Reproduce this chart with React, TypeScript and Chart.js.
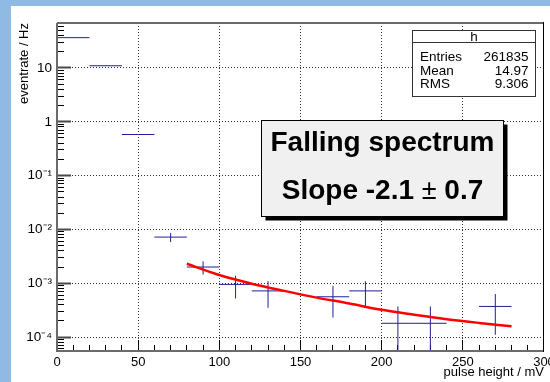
import { useEffect, useRef } from 'react';
import { Chart, registerables } from 'chart.js';

Chart.register(...registerables);

// ---- data ----
const binLow = [0, 20, 40, 60, 80, 100, 120, 160, 180, 200, 220, 260];
const binHigh = [20, 40, 60, 80, 100, 120, 140, 180, 200, 220, 240, 280];
const rate = [36.6, 11.0, 0.58, 0.0072, 0.002, 0.00095, 0.00072, 0.00056, 0.00072, 0.00018, 0.00018, 0.00037];
const rateErr = [0.05, 0.03, 0.004, 0.0014, 0.00055, 0.00043, 0.00037, 0.00033, 0.00037, 0.00019, 0.00019, 0.00026];

const fitX = [80, 100, 120, 140, 160, 180, 200, 220, 240, 260, 280];
const fitY = [0.0023, 0.00142, 0.00098, 0.00072, 0.00054, 0.00042, 0.00032, 0.00026, 0.000215, 0.000183, 0.000158];

const xTicks = [0, 50, 100, 150, 200, 250, 300];
const yTicks = [1e-4, 1e-3, 1e-2, 1e-1, 1, 10];
const yTickLabels = ['10\u207B\u2074', '10\u207B\u00B3', '10\u207B\u00B2', '10\u207B\u00B9', '1', '10'];

const statsTitle = 'h';
const statsNames = ['Entries', 'Mean', 'RMS'];
const statsValues = ['261835', '14.97', '9.306'];

const noteLine1 = 'Falling spectrum';
const noteLine2 = ['Slope -2.1 ', '\u00B1', ' 0.7'];

const X_MIN = 0;
const X_MAX = 300;
const Y_MIN = 5.5e-5;
const Y_MAX = 68.5;

const FONT = '"Liberation Sans", Arial, Helvetica, sans-serif';
const BLUE = '#1f1f99';

// minor tick positions (axis construction)
function xMinorTicks() {
  const out: number[] = [];
  for (let v = X_MIN + 10; v < X_MAX; v += 10) if (v % 50 !== 0) out.push(v);
  return out;
}
function yMinorTicks() {
  const out: number[] = [];
  for (let d = -5; d <= 1; d++) {
    for (let m = 2; m <= 9; m++) {
      const v = m * Math.pow(10, d);
      if (v > Y_MIN && v < Y_MAX) out.push(v);
    }
  }
  return out;
}

function buildCrosses() {
  const pts: { x: number; y: number | null }[] = [];
  for (let i = 0; i < binLow.length; i++) {
    const c = (binLow[i] + binHigh[i]) / 2;
    const v = rate[i];
    const lo = v - rateErr[i] > 0 ? v - rateErr[i] : Y_MIN / 10;
    pts.push({ x: binLow[i], y: v });
    pts.push({ x: binHigh[i], y: v });
    pts.push({ x: binHigh[i], y: null });
    pts.push({ x: c, y: lo });
    pts.push({ x: c, y: v + rateErr[i] });
    pts.push({ x: c, y: null });
  }
  return pts;
}

function drawFrameAndBoxes(chart: any) {
  const ctx = chart.ctx;
  const a = chart.chartArea;
  ctx.save();
  ctx.setLineDash([]);

  ctx.strokeStyle = '#6a6a6a';
  ctx.lineWidth = 2;
  ctx.beginPath();
  ctx.moveTo(a.left, a.top);
  ctx.lineTo(a.left, a.bottom);
  ctx.lineTo(a.right, a.bottom);
  ctx.moveTo(a.left, a.top);
  ctx.lineTo(a.right, a.top);
  ctx.stroke();
  ctx.strokeStyle = '#000000';
  ctx.lineWidth = 1;
  ctx.beginPath();
  ctx.moveTo(a.right - 0.5, a.top - 1);
  ctx.lineTo(a.right - 0.5, a.bottom + 1);
  ctx.stroke();

  // stats box
  const sx = 412.5, sy = 30.5, sw = 123, sh = 66;
  ctx.fillStyle = '#ffffff';
  ctx.fillRect(sx, sy, sw, sh);
  ctx.strokeStyle = '#333333';
  ctx.lineWidth = 1;
  ctx.strokeRect(sx, sy, sw, sh);
  ctx.beginPath();
  ctx.moveTo(sx, 42.5);
  ctx.lineTo(sx + sw, 42.5);
  ctx.stroke();
  ctx.fillStyle = '#000000';
  ctx.font = `13.5px ${FONT}`;
  ctx.textBaseline = 'alphabetic';
  ctx.textAlign = 'center';
  ctx.fillText(statsTitle, sx + sw / 2, 41);
  for (let i = 0; i < statsNames.length; i++) {
    const by = 61 + i * 13.7;
    ctx.textAlign = 'left';
    ctx.fillText(statsNames[i], 420, by);
    ctx.textAlign = 'right';
    ctx.fillText(statsValues[i], 528.5, by);
  }

  // note box
  const bx = 261.5, by0 = 120.5, bw = 242, bh = 96;
  ctx.fillStyle = '#000000';
  ctx.fillRect(bx + 4, by0 + 4, bw, bh);
  ctx.fillStyle = '#f0f0f0';
  ctx.fillRect(bx, by0, bw, bh);
  ctx.strokeStyle = '#000000';
  ctx.lineWidth = 1;
  ctx.strokeRect(bx, by0, bw, bh);
  const cx = bx + bw / 2;
  ctx.fillStyle = '#000000';
  ctx.textAlign = 'center';
  ctx.font = `bold 28px ${FONT}`;
  ctx.fillText(noteLine1, cx, 151);
  const fonts = [`bold 28px ${FONT}`, `27px ${FONT}`, `bold 28px ${FONT}`];
  const widths = noteLine2.map((t, i) => {
    ctx.font = fonts[i];
    return ctx.measureText(t).width;
  });
  const total = widths.reduce((s, w) => s + w, 0);
  let tx = cx - total / 2;
  ctx.textAlign = 'left';
  noteLine2.forEach((t, i) => {
    ctx.font = fonts[i];
    ctx.fillText(t, tx, 199);
    tx += widths[i];
  });
  ctx.restore();
}

export default function App() {
  const ref = useRef<HTMLCanvasElement | null>(null);
  useEffect(() => {
    document.body.style.margin = '0';
    const canvas = ref.current;
    if (!canvas) return;
    const rootPlugin = {
      id: 'rootStyle',
      beforeDraw(chart: any) {
        const { ctx, width, height } = chart;
        ctx.save();
        ctx.fillStyle = '#8fbae4';
        ctx.fillRect(0, 0, width, height);
        ctx.fillStyle = '#ffffff';
        ctx.fillRect(11, 6, width - 11, height - 6);
        ctx.restore();
      },
      afterDraw(chart: any) {
        drawFrameAndBoxes(chart);
      },
    };
    const xMinor = xMinorTicks();
    const yMinor = yMinorTicks();
    const chart = new Chart(canvas, {
      type: 'line',
      data: {
        datasets: [
          {
            label: 'fit',
            data: fitX.map((x, i) => ({ x, y: fitY[i] })),
            borderColor: '#ff0000',
            borderWidth: 2.5,
            pointRadius: 0,
            cubicInterpolationMode: 'monotone',
            fill: false,
          },
          {
            label: 'h',
            data: buildCrosses(),
            borderColor: BLUE,
            borderWidth: 1,
            pointRadius: 0,
            spanGaps: false,
            fill: false,
          },
        ],
      },
      options: {
        animation: false,
        responsive: false,
        maintainAspectRatio: false,
        devicePixelRatio: 1,
        layout: { padding: { left: 11, top: 23, right: 6, bottom: 0 } },
        plugins: { legend: { display: false }, tooltip: { enabled: false } },
        scales: {
          x: {
            type: 'linear',
            position: 'bottom',
            weight: 0,
            min: X_MIN,
            max: X_MAX,
            afterBuildTicks: (s: any) => {
              s.ticks = xTicks.map((v) => ({ value: v }));
            },
            afterFit: (s: any) => {
              s.height = 31;
              s.paddingLeft = 0;
              s.paddingRight = 0;
            },
            ticks: {
              autoSkip: false,
              maxRotation: 0,
              padding: 15,
              color: '#000000',
              font: { family: FONT, size: 13 },
              callback: (v: any) => String(v),
            },
            grid: {
              drawTicks: true,
              tickLength: -11,
              tickWidth: 1,
              tickColor: (c: any) =>
                c.tick && (c.tick.value === X_MIN || c.tick.value === X_MAX) ? 'rgba(0,0,0,0)' : '#000000',
              color: (c: any) =>
                c.tick && (c.tick.value === X_MIN || c.tick.value === X_MAX) ? 'rgba(0,0,0,0)' : '#333333',
              lineWidth: 1,
            },
            border: { display: false, dash: [1, 2] },
            title: {
              display: true,
              text: 'pulse height / mV',
              align: 'end',
              color: '#000000',
              font: { family: FONT, size: 13 },
              padding: { top: 0, bottom: 2 },
            },
          },
          xMinor: {
            type: 'linear',
            position: 'bottom',
            weight: -1,
            min: X_MIN,
            max: X_MAX,
            afterBuildTicks: (s: any) => {
              s.ticks = xMinor.map((v) => ({ value: v }));
            },
            afterFit: (s: any) => {
              s.height = 0;
              s.paddingLeft = 0;
              s.paddingRight = 0;
            },
            ticks: { autoSkip: false, maxRotation: 0, padding: 0, callback: () => '' },
            grid: {
              drawOnChartArea: false,
              drawTicks: true,
              tickLength: -6,
              tickWidth: 1,
              tickColor: '#000000',
            },
            border: { display: false },
          },
          y: {
            type: 'logarithmic',
            position: 'left',
            weight: 0,
            min: Y_MIN,
            max: Y_MAX,
            afterBuildTicks: (s: any) => {
              s.ticks = yTicks.map((v) => ({ value: v }));
            },
            afterFit: (s: any) => {
              s.width = 46;
              s.paddingTop = 0;
              s.paddingBottom = 0;
            },
            ticks: {
              autoSkip: false,
              padding: 19,
              color: '#000000',
              font: { family: FONT, size: 13.5 },
              callback: (v: any) => {
                const i = yTicks.findIndex((t) => Math.abs(t - v) / t < 1e-6);
                return i >= 0 ? yTickLabels[i] : '';
              },
            },
            grid: {
              drawTicks: true,
              tickLength: -14,
              tickWidth: 2,
              tickColor: '#4a4a4a',
              color: '#333333',
              lineWidth: 1,
            },
            border: { display: false, dash: [1, 2] },
            title: {
              display: true,
              text: 'eventrate / Hz',
              align: 'end',
              color: '#000000',
              font: { family: FONT, size: 13 },
              padding: { top: 6, bottom: 0 },
            },
          },
          yMinor: {
            type: 'logarithmic',
            position: 'left',
            weight: -1,
            min: Y_MIN,
            max: Y_MAX,
            afterBuildTicks: (s: any) => {
              s.ticks = yMinor.map((v) => ({ value: v }));
            },
            afterFit: (s: any) => {
              s.width = 0;
              s.paddingTop = 0;
              s.paddingBottom = 0;
            },
            ticks: { autoSkip: false, padding: 0, callback: () => '' },
            grid: {
              drawOnChartArea: false,
              drawTicks: true,
              tickLength: -7,
              tickWidth: 1,
              tickColor: '#000000',
            },
            border: { display: false },
          },
        },
      },
      plugins: [rootPlugin],
    } as any);
    return () => chart.destroy();
  }, []);

  return (
    <div style={{ position: 'absolute', left: 0, top: 0, width: 550, height: 382 }}>
      <canvas ref={ref} width={550} height={382} style={{ display: 'block', width: 550, height: 382 }} />
    </div>
  );
}
